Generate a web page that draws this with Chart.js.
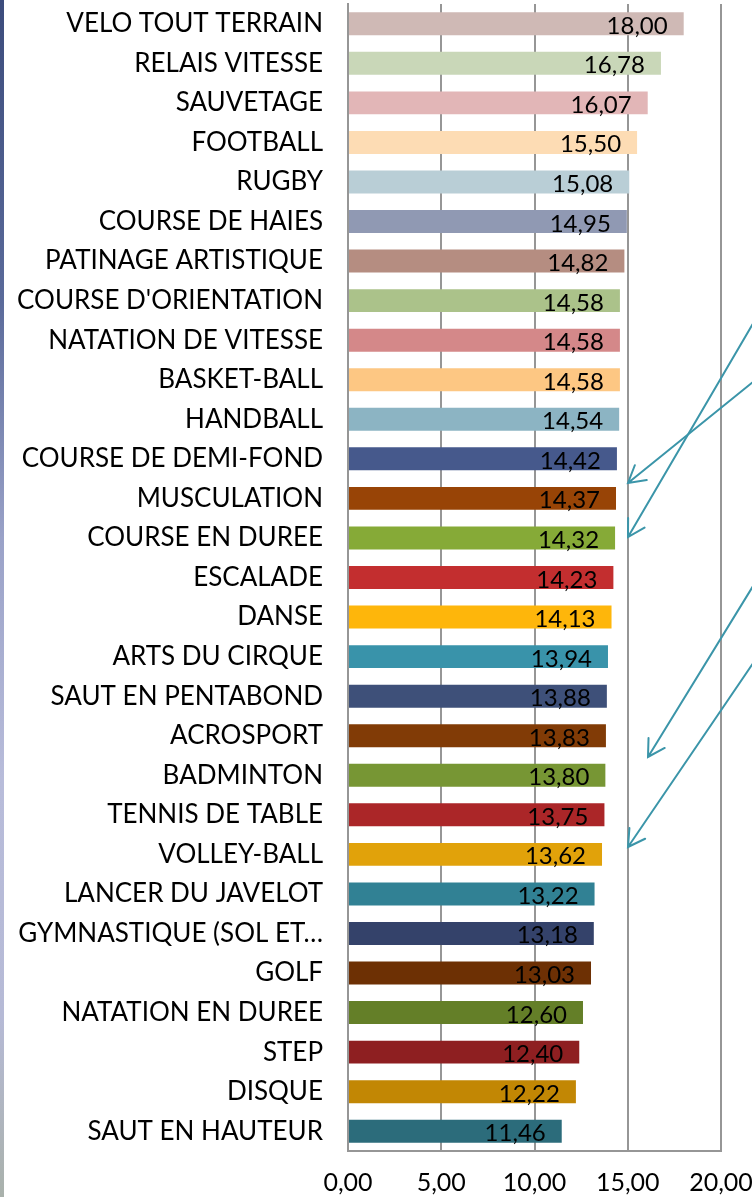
<!DOCTYPE html>
<html>
<head>
<meta charset="utf-8">
<script src="https://cdn.jsdelivr.net/npm/chart.js@4"></script>
<style>
  html, body { margin: 0; padding: 0; background: #ffffff; }
  #wrap { position: relative; width: 752px; height: 1197px; }
  #strip { position: absolute; left: 0; top: 0; width: 4px; height: 1197px;
    background: linear-gradient(to bottom, #3c4c7c 0%, #5a6a9a 25%, #9aa2c8 45%, #b8bcda 65%, #b6bad6 85%, #a9b1ab 100%); }
</style>
</head>
<body>
<div id="wrap">
  <canvas id="c" width="752" height="1197"></canvas>
  <div id="strip"></div>
</div>
<script>
const categories = ["VELO TOUT TERRAIN","RELAIS VITESSE","SAUVETAGE","FOOTBALL","RUGBY","COURSE DE HAIES","PATINAGE ARTISTIQUE","COURSE D'ORIENTATION","NATATION DE VITESSE","BASKET-BALL","HANDBALL","COURSE DE DEMI-FOND","MUSCULATION","COURSE EN DUREE","ESCALADE","DANSE","ARTS DU CIRQUE","SAUT EN PENTABOND","ACROSPORT","BADMINTON","TENNIS DE TABLE","VOLLEY-BALL","LANCER DU JAVELOT","GYMNASTIQUE (SOL ET…","GOLF","NATATION EN DUREE","STEP","DISQUE","SAUT EN HAUTEUR"];
const values = [18.00,16.78,16.07,15.50,15.08,14.95,14.82,14.58,14.58,14.58,14.54,14.42,14.37,14.32,14.23,14.13,13.94,13.88,13.83,13.80,13.75,13.62,13.22,13.18,13.03,12.60,12.40,12.22,11.46];
const barColors = ["#cfb9b5","#c9d7b8","#e2b6b7","#fddcb4","#b9ced6","#9099b3","#b58d81","#abc28a","#d48889","#fdc783","#8cb4c3","#46598c","#984406","#86aa37","#c32e2f","#feb60b","#3993aa","#3e5079","#813b06","#779634","#ab2628","#e1a20a","#318194","#34426a","#6d3004","#647f28","#8e1f21","#c28704","#2c6c7b"];
const xTicks = [0, 5, 10, 15, 20];

// decorative annotation arrows (pixel coordinates: tail -> tip)
const arrows = [
  [[764, 373], [628, 483]],
  [[758, 315], [628, 537]],
  [[758, 578], [648, 757]],
  [[758, 656], [628, 847]]
];

const FONT = "Lato, 'Open Sans', sans-serif";
const fmt = v => v.toFixed(2).replace('.', ',');

const labelPlugin = {
  id: 'barLabels',
  afterDatasetsDraw(chart) {
    const ctx = chart.ctx;
    const meta = chart.getDatasetMeta(0);
    ctx.save();
    ctx.font = "24px " + FONT;
    ctx.fillStyle = "#000000";
    ctx.textAlign = "right";
    ctx.textBaseline = "alphabetic";
    meta.data.forEach((bar, i) => {
      ctx.fillText(fmt(values[i]), bar.x - 16, bar.y + 10);
    });
    ctx.restore();
  }
};

const arrowPlugin = {
  id: 'arrows',
  afterDraw(chart) {
    const ctx = chart.ctx;
    ctx.save();
    ctx.strokeStyle = "#3b95a9";
    ctx.lineWidth = 2;
    ctx.lineCap = "round";
    arrows.forEach(([t, h]) => {
      ctx.beginPath();
      ctx.moveTo(t[0], t[1]);
      ctx.lineTo(h[0], h[1]);
      const ang = Math.atan2(t[1] - h[1], t[0] - h[0]);
      const L = 19, a = Math.PI / 6;
      ctx.moveTo(h[0] + L * Math.cos(ang + a), h[1] + L * Math.sin(ang + a));
      ctx.lineTo(h[0], h[1]);
      ctx.lineTo(h[0] + L * Math.cos(ang - a), h[1] + L * Math.sin(ang - a));
      ctx.stroke();
    });
    ctx.restore();
  }
};

const zeroPad = s => { s.paddingTop = 0; s.paddingBottom = 0; s.paddingLeft = 0; s.paddingRight = 0; };

new Chart(document.getElementById('c'), {
  type: 'bar',
  data: {
    labels: categories,
    datasets: [{
      data: values,
      backgroundColor: barColors,
      borderWidth: 0,
      categoryPercentage: 1.0,
      barPercentage: 0.58
    }]
  },
  options: {
    indexAxis: 'y',
    responsive: false,
    animation: false,
    layout: { padding: { left: 0, right: 31, top: 4, bottom: 0 } },
    plugins: { legend: { display: false }, tooltip: { enabled: false } },
    scales: {
      x: {
        min: 0, max: 20,
        afterBuildTicks: s => { s.ticks = xTicks.map(v => ({ value: v })); },
        afterFit: s => { s.height = 46; zeroPad(s); },
        grid: { color: "#969696", lineWidth: 2, drawTicks: false },
        border: { display: true, color: "#969696", width: 2 },
        ticks: {
          padding: 17,
          color: "#000000",
          font: { family: FONT, size: 25 },
          callback: v => fmt(v),
          maxRotation: 0
        }
      },
      y: {
        afterFit: s => { s.width = 348; zeroPad(s); },
        grid: { display: false, drawTicks: false },
        border: { display: true, color: "#969696", width: 2 },
        ticks: {
          padding: 25,
          color: "#000000",
          font: { family: FONT, size: 26 },
          autoSkip: false
        }
      }
    }
  },
  plugins: [labelPlugin, arrowPlugin]
});
</script>
</body>
</html>
